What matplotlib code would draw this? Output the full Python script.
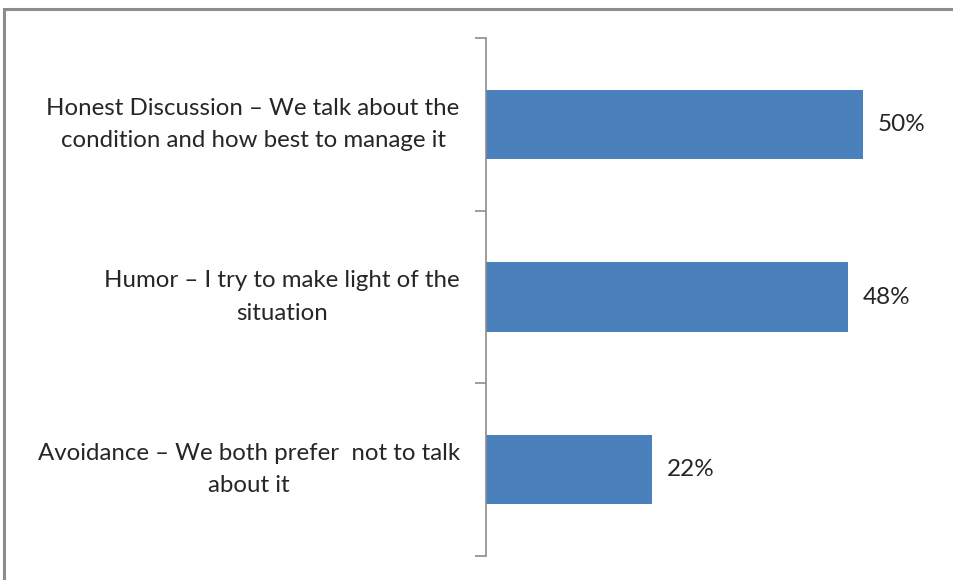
import matplotlib.pyplot as plt
from matplotlib.patches import Rectangle

categories = [
    'Honest Discussion \u2013 We talk about the\ncondition and how best to manage it',
    'Humor \u2013 I try to make light of the\nsituation',
    'Avoidance \u2013 We both prefer  not to talk\nabout it',
]
values = [50, 48, 22]
value_labels = ['50%', '48%', '22%']

plt.rcParams['font.family'] = ['Lato', 'DejaVu Sans']

fig = plt.figure(figsize=(9.54, 5.8), dpi=100)
W, H = 954, 580
ax = fig.add_axes([486 / W, 1 - 556 / H, (938 - 486) / W, (556 - 38) / H])

# outer frame (cut off at right and bottom like the source screenshot)
fig.patches.append(Rectangle((4 / W, -0.05), 1.1, 1 - 9 / H + 0.05,
                             transform=fig.transFigure, fill=False,
                             edgecolor='#8c8c8c', linewidth=2.2))

ypos = [2, 1, 0]
ax.barh(ypos, values, height=0.4, color='#4a81bd')
for y, v, lab in zip(ypos, values, value_labels):
    ax.text(v + 2.0, y, lab, va='center', ha='left', fontsize=17.5, color='#262626')

ax.set_xlim(0, 60)
ax.set_ylim(-0.5, 2.5)
ax.set_yticks([-0.5, 0.5, 1.5, 2.5])
ax.set_yticklabels([])
ax.tick_params(axis='y', direction='out', length=8, color='#8c8c8c', width=1.2)
for y, lab in zip(ypos, categories):
    ax.text(-3.5, y, lab, ha='right', va='center', fontsize=17.3,
            color='#262626', linespacing=1.65, multialignment='center')

ax.set_xticks([])
for s in ['top', 'right', 'bottom']:
    ax.spines[s].set_visible(False)
ax.spines['left'].set_color('#8c8c8c')
ax.spines['left'].set_linewidth(1.2)

fig.savefig('out.png', dpi=100)
